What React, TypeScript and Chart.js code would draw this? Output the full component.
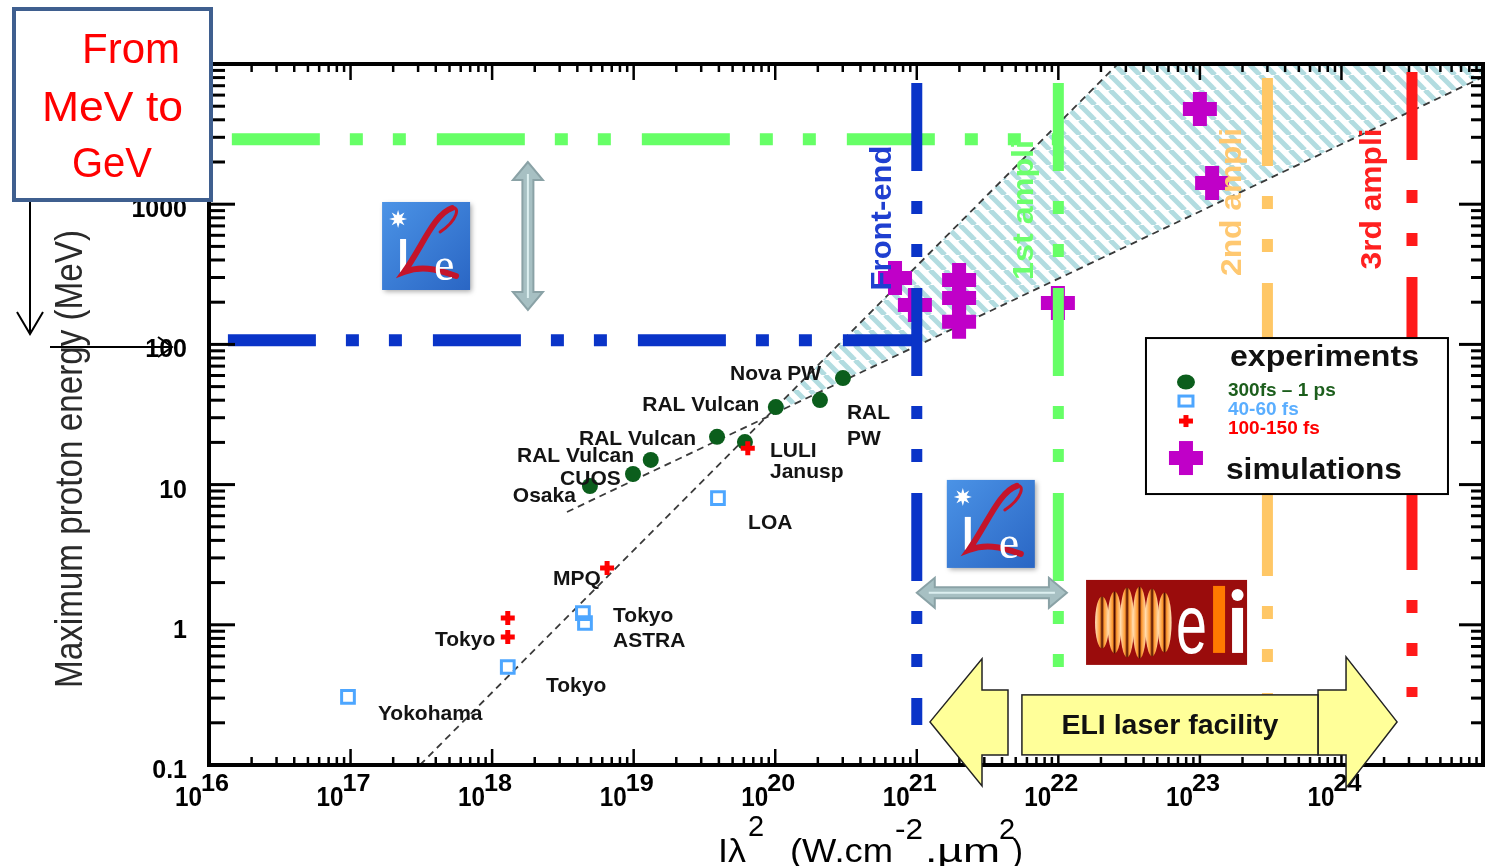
import React, { useEffect, useRef } from 'react';
import { Chart, registerables } from 'chart.js';

Chart.register(...registerables);

// ---------- axes ----------
const X_MIN = 1e16;
const X_MAX = 1e25;
const Y_MIN = 0.1;
const Y_MAX = 1e4;
const xTickValues = [1e16, 1e17, 1e18, 1e19, 1e20, 1e21, 1e22, 1e23, 1e24];
const xTickExponents = ['16', '17', '18', '19', '20', '21', '22', '23', '24'];
const yTickValues = [0.1, 1, 10, 100, 1000];
const yTickLabels = ['0.1', '1', '10', '100', '1000'];
const xDecades = [16, 17, 18, 19, 20, 21, 22, 23, 24];
const yDecades = [-1, 0, 1, 2, 3];

// ---------- experiments: 300fs - 1 ps ----------
const longPulseX = [4.91e18, 9.89e18, 1.32e19, 3.88e19, 6.11e19, 1.01e20, 2.07e20, 3.01e20];
const longPulseY = [9.77, 11.9, 15.0, 21.9, 20.1, 35.7, 40.1, 57.5];

// ---------- experiments: 40-60 fs ----------
const shortPulseX = [3.94e19, 4.38e18, 4.53e18, 1.29e18, 9.59e16];
const shortPulseY = [8.02, 1.21, 1.03, 0.5, 0.306];

// ---------- experiments: 100-150 fs ----------
const midPulseX = [6.4e19, 6.49e18, 1.29e18, 1.29e18];
const midPulseY = [18.2, 2.54, 1.12, 0.818];

// ---------- simulations ----------
const simX = [7.02e20, 9.7e20, 1.99e21, 1.99e21, 1.99e21, 9.93e21, 1.0e23, 1.22e23];
const simY = [298, 191, 288, 214, 145, 197, 4780, 1416];

// ---------- scaling guide lines ----------
const steepLineX = [3.09e17, 2.63e22];
const steepLineY = [0.1, 1e4];
const shallowLineX = [3.38e18, 1e25];
const shallowLineY = [6.38, 8070];
const hatchX = [8.79e19, 2.63e22, 1e25, 1e25, 8.79e19];
const hatchY = [30.8, 1e4, 1e4, 8070, 30.8];

// ---------- laser stages ----------
const stageNames = ['Front-end', '1st ampli', '2nd ampli', '3rd ampli'];
const stageX = [1e21, 1e22, 3e23, 3.15e24];
const stageTop = [7310, 7310, 7940, 8770];
const stageBottom = [0.193, 0.5, 0.178, 0.305];
const stageColors = ['#0a34c8', '#66ff66', '#ffc766', '#ff1a1a'];
const stageTextColors = ['#1f3fd0', '#6cff6c', '#ffc870', '#ff2020'];
const stageLabelX = [5.5e20, 5.53e21, 1.63e23, 1.59e24];
const stageLabelY = [798, 910, 1038, 1090];
const stageLabelLen = [145, 140, 148, 141];

// energy levels
const levelY = [107, 2900];
const levelStart = [1.36e16, 1.45e16];
const levelEnd = [1e21, 1e22];
const levelColors = ['#0a34c8', '#66ff66'];

// ---------- point labels ----------
const labelText = ['Nova PW', 'RAL Vulcan', 'RAL Vulcan', 'RAL Vulcan', 'CUOS', 'Osaka', 'RAL', 'PW', 'LULI', 'Janusp', 'LOA', 'MPQ', 'Tokyo', 'ASTRA', 'Tokyo', 'Tokyo', 'Yokohama'];
const labelX = [4.79e19, 1.15e19, 4.11e18, 1.5e18, 3.02e18, 1.4e18, 3.21e20, 3.21e20, 9.18e19, 9.18e19, 6.43e19, 2.69e18, 7.15e18, 7.15e18, 3.95e17, 2.4e18, 1.56e17];
const labelY = [63.5, 37.6, 21.8, 16.5, 11.3, 8.43, 33, 21.5, 17.7, 12.7, 5.5, 2.19, 1.19, 0.79, 0.805, 0.378, 0.235];

const legendItems = ['300fs – 1 ps', '40-60 fs', '100-150 fs'];
const legendColors = ['#1c5e1c', '#5aaeff', '#ff0000'];

const DASH_DOT_DOT = [88, 30, 13, 30, 13, 31];
const FONT = '"Liberation Sans", Arial, sans-serif';

const pts = (xs: number[], ys: number[]) => xs.map((x, i) => ({ x, y: ys[i] }));

function txt(ctx: CanvasRenderingContext2D, s: string, x: number, y: number, font: string, color: string,
  align: CanvasTextAlign = 'left', w?: number, rot = 0, baseline: CanvasTextBaseline = 'alphabetic') {
  ctx.save();
  ctx.font = font;
  ctx.fillStyle = color;
  ctx.textBaseline = baseline;
  ctx.textAlign = align;
  const m = ctx.measureText(s).width;
  const sx = w ? w / m : 1;
  ctx.translate(x, y);
  if (rot) ctx.rotate(rot);
  ctx.scale(sx, 1);
  ctx.fillText(s, 0, 0);
  ctx.restore();
}

function line(ctx: CanvasRenderingContext2D, x1: number, y1: number, x2: number, y2: number) {
  ctx.beginPath();
  ctx.moveTo(x1, y1);
  ctx.lineTo(x2, y2);
  ctx.stroke();
}

function dblArrow(ctx: CanvasRenderingContext2D, x1: number, y1: number, x2: number, y2: number) {
  const dx = x2 - x1, dy = y2 - y1;
  const L = Math.hypot(dx, dy);
  const ux = dx / L, uy = dy / L, nx = -uy, ny = ux;
  const hw = 15, hl = 18, sw = 5.5;
  const local = [[0, 0], [hl, hw], [hl, sw], [L - hl, sw], [L - hl, hw], [L, 0], [L - hl, -hw], [L - hl, -sw], [hl, -sw], [hl, -hw]];
  ctx.save();
  ctx.beginPath();
  local.forEach(([t, s], i) => {
    const px = x1 + ux * t + nx * s, py = y1 + uy * t + ny * s;
    if (i === 0) ctx.moveTo(px, py); else ctx.lineTo(px, py);
  });
  ctx.closePath();
  ctx.fillStyle = '#a7c0c3';
  ctx.fill();
  ctx.strokeStyle = '#8aa2a6';
  ctx.lineWidth = 2;
  ctx.stroke();
  ctx.strokeStyle = '#dcefF0';
  ctx.lineWidth = 2;
  line(ctx, x1 + ux * (hl - 6), y1 + uy * (hl - 6), x2 - ux * (hl - 6), y2 - uy * (hl - 6));
  ctx.restore();
}

function star(ctx: CanvasRenderingContext2D, cx: number, cy: number, r: number) {
  ctx.beginPath();
  for (let i = 0; i < 16; i++) {
    const a = (Math.PI * i) / 8;
    const rr = i % 2 === 0 ? r : r * 0.45;
    const px = cx + rr * Math.cos(a), py = cy + rr * Math.sin(a);
    if (i === 0) ctx.moveTo(px, py); else ctx.lineTo(px, py);
  }
  ctx.closePath();
  ctx.fill();
}

function drawIle(ctx: CanvasRenderingContext2D, x: number, y: number) {
  const w = 88, h = 88;
  ctx.save();
  ctx.shadowColor = 'rgba(0,0,0,0.35)';
  ctx.shadowBlur = 5;
  ctx.shadowOffsetX = 2;
  ctx.shadowOffsetY = 2;
  const g = ctx.createLinearGradient(x, y, x + w, y + h);
  g.addColorStop(0, '#4b93e6');
  g.addColorStop(1, '#2a66c4');
  ctx.fillStyle = g;
  ctx.fillRect(x, y, w, h);
  ctx.restore();
  ctx.save();
  ctx.fillStyle = '#ffffff';
  star(ctx, x + 16, y + 17, 9);
  ctx.fillRect(x + 18, y + 37, 6, 33);
  ctx.strokeStyle = '#c4142a';
  ctx.lineCap = 'round';
  ctx.lineWidth = 6;
  ctx.beginPath();
  ctx.moveTo(x + 70, y + 6);
  ctx.bezierCurveTo(x + 52, y + 12, x + 40, y + 45, x + 22, y + 70);
  ctx.bezierCurveTo(x + 38, y + 64, x + 52, y + 66, x + 74, y + 74);
  ctx.stroke();
  ctx.lineWidth = 3;
  ctx.beginPath();
  ctx.moveTo(x + 70, y + 6);
  ctx.bezierCurveTo(x + 78, y + 4, x + 76, y + 18, x + 58, y + 30);
  ctx.stroke();
  ctx.restore();
  txt(ctx, 'e', x + 52, y + 78, '46px "Liberation Serif", serif', '#ffffff', 'left');
}

function drawEli(ctx: CanvasRenderingContext2D, x: number, y: number) {
  const w = 161, h = 85;
  ctx.save();
  ctx.fillStyle = '#9a0c0c';
  ctx.fillRect(x, y, w, h);
  const ry = [26, 31, 35, 36, 34, 30];
  for (let i = 0; i < 6; i++) {
    const cx = x + 16 + i * 12.5, cy = y + h / 2;
    const g = ctx.createLinearGradient(cx - 7, 0, cx + 7, 0);
    g.addColorStop(0, '#ffe4c0');
    g.addColorStop(0.35, '#ff9a30');
    g.addColorStop(0.5, '#4a0800');
    g.addColorStop(0.65, '#ff9a30');
    g.addColorStop(1, '#ffe4c0');
    ctx.fillStyle = g;
    ctx.beginPath();
    ctx.ellipse(cx, cy, 7, ry[i], 0, 0, Math.PI * 2);
    ctx.fill();
  }
  ctx.restore();
  txt(ctx, 'e', x + 90, y + 73, '84px ' + FONT, '#ffffff', 'left', 31);
  ctx.save();
  ctx.fillStyle = '#ff7a00';
  ctx.fillRect(x + 127, y + 6, 12, 67);
  ctx.fillStyle = '#ffffff';
  ctx.fillRect(x + 146, y + 28, 11, 45);
  ctx.beginPath();
  ctx.arc(x + 151.5, y + 15, 6, 0, Math.PI * 2);
  ctx.fill();
  ctx.restore();
}

const overlayPlugin = {
  id: 'overlay',
  afterDraw(chart: any) {
    const ctx: CanvasRenderingContext2D = chart.ctx;
    const xs = chart.scales.x, ys = chart.scales.y;
    const X = (v: number) => xs.getPixelForValue(v);
    const Y = (v: number) => ys.getPixelForValue(v);
    const { left, right, top, bottom } = chart.chartArea;

    // ----- frame and ticks -----
    ctx.save();
    ctx.strokeStyle = '#000';
    ctx.lineWidth = 2.5;
    xDecades.forEach((e) => {
      for (let k = 1; k <= 9; k++) {
        const p = X(k * Math.pow(10, e));
        const len = k === 1 ? 16 : 8;
        line(ctx, p, bottom, p, bottom - len);
        line(ctx, p, top, p, top + len);
      }
    });
    ctx.lineWidth = 3;
    yDecades.forEach((e) => {
      for (let k = 1; k <= 9; k++) {
        const p = Y(k * Math.pow(10, e));
        const major = k === 1;
        line(ctx, left, p, left + (major ? 26 : 16), p);
        line(ctx, right, p, right - (major ? 24 : 12), p);
      }
    });
    ctx.lineWidth = 4;
    ctx.strokeRect(left, top, right - left, bottom - top);
    ctx.restore();

    // ----- tick labels -----
    xTickValues.forEach((v, i) => {
      const p = X(v);
      txt(ctx, '10', p - 7, 806, 'bold 27px ' + FONT, '#000', 'right', 27);
      txt(ctx, xTickExponents[i], p - 8, 791, 'bold 24px ' + FONT, '#000', 'left', 28);
    });
    yTickValues.forEach((v, i) => {
      txt(ctx, yTickLabels[i], 187, Y(v) + 13, 'bold 25px ' + FONT, '#000', 'right');
    });

    // ----- axis titles -----
    txt(ctx, 'Maximum proton energy (MeV)', 82, 459, '38px ' + FONT, '#2a2a2a', 'center', 458, -Math.PI / 2);
    const tf = '33px ' + FONT;
    const sf = '29px ' + FONT;
    txt(ctx, 'Iλ', 718, 862, tf, '#000', 'left', 28);
    txt(ctx, '2', 748, 836, sf, '#000');
    txt(ctx, '(W.cm', 790, 862, tf, '#000', 'left', 103);
    txt(ctx, '-2', 895, 839, sf, '#000', 'left', 28);
    txt(ctx, '.µm', 925, 862, tf, '#000', 'left', 75);
    txt(ctx, '2', 999, 839, sf, '#000');
    txt(ctx, ')', 1012, 862, tf, '#000');

    // ----- point labels -----
    labelText.forEach((s, i) => {
      txt(ctx, s, X(labelX[i]), Y(labelY[i]) + 7.5, 'bold 21px ' + FONT, '#141414', 'left');
    });

    // ----- stage labels -----
    stageNames.forEach((s, i) => {
      txt(ctx, s, X(stageLabelX[i]) + 11, Y(stageLabelY[i]), 'bold 30px ' + FONT, stageTextColors[i], 'center', stageLabelLen[i], -Math.PI / 2);
    });

    // ----- gray double arrows -----
    dblArrow(ctx, X(1.79e18), Y(2000), X(1.79e18), Y(176));
    dblArrow(ctx, X(1e21), Y(1.69), X(1.15e22), Y(1.69));

    // ----- logos -----
    drawIle(ctx, X(1.67e17), Y(1037));
    drawIle(ctx, X(1.63e21), Y(10.8));
    drawEli(ctx, X(1.57e22), Y(2.09));

    // ----- legend -----
    const lx = X(4.16e22), ly = Y(111);
    ctx.save();
    ctx.fillStyle = '#fff';
    ctx.fillRect(lx, ly, 302, 156);
    ctx.strokeStyle = '#000';
    ctx.lineWidth = 2;
    ctx.strokeRect(lx, ly, 302, 156);
    ctx.fillStyle = '#0b5e1c';
    ctx.beginPath();
    ctx.ellipse(lx + 40, ly + 44, 9, 7.5, 0, 0, Math.PI * 2);
    ctx.fill();
    ctx.strokeStyle = '#4da6ff';
    ctx.lineWidth = 3;
    ctx.strokeRect(lx + 33, ly + 58, 14, 10);
    ctx.strokeStyle = '#ff0000';
    ctx.lineWidth = 5;
    line(ctx, lx + 33, ly + 83, lx + 47, ly + 83);
    line(ctx, lx + 40, ly + 77, lx + 40, ly + 89);
    ctx.strokeStyle = '#c000c8';
    ctx.lineWidth = 14;
    line(ctx, lx + 23, ly + 120, lx + 57, ly + 120);
    line(ctx, lx + 40, ly + 103, lx + 40, ly + 137);
    ctx.restore();
    txt(ctx, 'experiments', lx + 84, ly + 28, 'bold 29px ' + FONT, '#111', 'left', 189);
    legendItems.forEach((s, i) => {
      txt(ctx, s, lx + 82, ly + 58 + i * 19, 'bold 19px ' + FONT, legendColors[i], 'left');
    });
    txt(ctx, 'simulations', lx + 80, ly + 141, 'bold 29px ' + FONT, '#111', 'left', 176);

    // ----- ELI laser facility arrow -----
    const ay = Y(0.203);
    const xl = X(1.24e21), xr = X(2.47e24);
    ctx.save();
    ctx.fillStyle = '#ffff99';
    ctx.strokeStyle = '#222';
    ctx.lineWidth = 1.5;
    const leftArrow = [[xl, ay], [xl + 52, ay - 63], [xl + 52, ay - 32], [xl + 78, ay - 32], [xl + 78, ay + 33], [xl + 52, ay + 33], [xl + 52, ay + 64]];
    const rightArrow = [[xr, ay], [xr - 51, ay - 65], [xr - 51, ay - 32], [xr - 79, ay - 32], [xr - 79, ay + 33], [xr - 51, ay + 33], [xr - 51, ay + 66]];
    [leftArrow, rightArrow].forEach((poly) => {
      ctx.beginPath();
      poly.forEach(([px, py], i) => (i === 0 ? ctx.moveTo(px, py) : ctx.lineTo(px, py)));
      ctx.closePath();
      ctx.fill();
      ctx.stroke();
    });
    const bx = X(5.53e21), bw = X(6.82e23) - bx;
    ctx.fillRect(bx, ay - 27, bw, 60);
    ctx.strokeRect(bx, ay - 27, bw, 60);
    ctx.restore();
    txt(ctx, 'ELI laser facility', bx + bw / 2, ay + 12, 'bold 27px ' + FONT, '#111', 'center', 217);

    // ----- "From MeV to GeV" box -----
    ctx.save();
    ctx.fillStyle = '#fff';
    ctx.fillRect(12, 8, 200, 193);
    ctx.strokeStyle = '#3f5f8f';
    ctx.lineWidth = 4;
    ctx.strokeRect(14, 9, 197, 191);
    ctx.restore();
    txt(ctx, 'From', 82, 63, '42px ' + FONT, '#ff0000', 'left', 98);
    txt(ctx, 'MeV to', 42, 121, '42px ' + FONT, '#ff0000', 'left', 141);
    txt(ctx, 'GeV', 72, 177, '42px ' + FONT, '#ff0000', 'left', 80);

    // pointer arrows
    ctx.save();
    ctx.strokeStyle = '#000';
    ctx.lineWidth = 2;
    line(ctx, 30, 202, 30, 334);
    ctx.beginPath();
    ctx.moveTo(17, 312);
    ctx.lineTo(30, 334);
    ctx.lineTo(43, 312);
    ctx.stroke();
    line(ctx, 50, 347, 172, 347);
    ctx.beginPath();
    ctx.moveTo(158, 337);
    ctx.lineTo(172, 347);
    ctx.lineTo(158, 357);
    ctx.stroke();
    ctx.restore();
  },
};

function makeHatch(): CanvasPattern | string {
  const s = 15;
  const c = document.createElement('canvas');
  c.width = s;
  c.height = s;
  const g = c.getContext('2d');
  if (!g) return '#b2dce0';
  g.strokeStyle = '#b2dce0';
  g.lineWidth = 5;
  [-1, 0, 1].forEach((k) => {
    g.beginPath();
    g.moveTo(k * s, 0);
    g.lineTo(k * s + s, s);
    g.stroke();
  });
  return g.createPattern(c, 'repeat') || '#b2dce0';
}

export default function App() {
  const ref = useRef<HTMLCanvasElement>(null);

  useEffect(() => {
    if (!ref.current) return;
    const hatch = makeHatch();
    const stageSets = stageX.map((x, i) => ({
      data: [{ x, y: stageTop[i] }, { x, y: stageBottom[i] }],
      showLine: true,
      borderColor: stageColors[i],
      borderWidth: 11,
      borderDash: DASH_DOT_DOT,
      borderCapStyle: 'butt',
      pointRadius: 0,
      fill: false,
      order: 60,
    }));
    const levelSets = levelY.map((y, i) => ({
      data: [{ x: levelStart[i], y }, { x: levelEnd[i], y }],
      showLine: true,
      borderColor: levelColors[i],
      borderWidth: 12,
      borderDash: DASH_DOT_DOT,
      borderCapStyle: 'butt',
      pointRadius: 0,
      fill: false,
      order: 80,
    }));
    const guide = (xs: number[], ys: number[]) => ({
      data: pts(xs, ys),
      showLine: true,
      borderColor: '#3a3a3a',
      borderWidth: 1.8,
      borderDash: [7, 5],
      pointRadius: 0,
      fill: false,
      order: 90,
    });
    const chart = new Chart(ref.current, {
      type: 'scatter',
      data: {
        datasets: [
          {
            data: pts(hatchX, hatchY),
            showLine: true,
            borderWidth: 0,
            borderColor: 'rgba(0,0,0,0)',
            backgroundColor: hatch as any,
            fill: 'shape',
            pointRadius: 0,
            order: 100,
          } as any,
          guide(steepLineX, steepLineY),
          guide(shallowLineX, shallowLineY),
          ...levelSets,
          {
            data: pts(simX, simY),
            pointStyle: 'cross',
            pointRadius: 17,
            borderWidth: 14,
            borderColor: '#c000c8',
            order: 70,
          },
          ...stageSets,
          {
            data: pts(longPulseX, longPulseY),
            pointStyle: 'circle',
            pointRadius: 8,
            borderWidth: 0,
            backgroundColor: '#0b5e1c',
            order: 10,
          },
          {
            data: pts(shortPulseX, shortPulseY),
            pointStyle: 'rect',
            pointRadius: 9,
            borderWidth: 3,
            borderColor: '#4da6ff',
            backgroundColor: 'rgba(255,255,255,0)',
            order: 10,
          },
          {
            data: pts(midPulseX, midPulseY),
            pointStyle: 'cross',
            pointRadius: 7,
            borderWidth: 5,
            borderColor: '#ff0000',
            order: 5,
          },
        ] as any,
      },
      options: {
        responsive: false,
        animation: false,
        events: [],
        layout: { autoPadding: false, padding: { left: 209, top: 64, right: 3, bottom: 101 } },
        plugins: { legend: { display: false }, tooltip: { enabled: false } },
        scales: {
          x: { type: 'logarithmic', min: X_MIN, max: X_MAX, display: false },
          y: { type: 'logarithmic', min: Y_MIN, max: Y_MAX, display: false },
        },
      } as any,
      plugins: [overlayPlugin],
    });
    return () => chart.destroy();
  }, []);

  return (
    <div style={{ position: 'absolute', left: 0, top: 0, width: 1486, height: 866, background: '#fff' }}>
      <canvas ref={ref} width={1486} height={866} style={{ display: 'block', width: 1486, height: 866 }} />
    </div>
  );
}
